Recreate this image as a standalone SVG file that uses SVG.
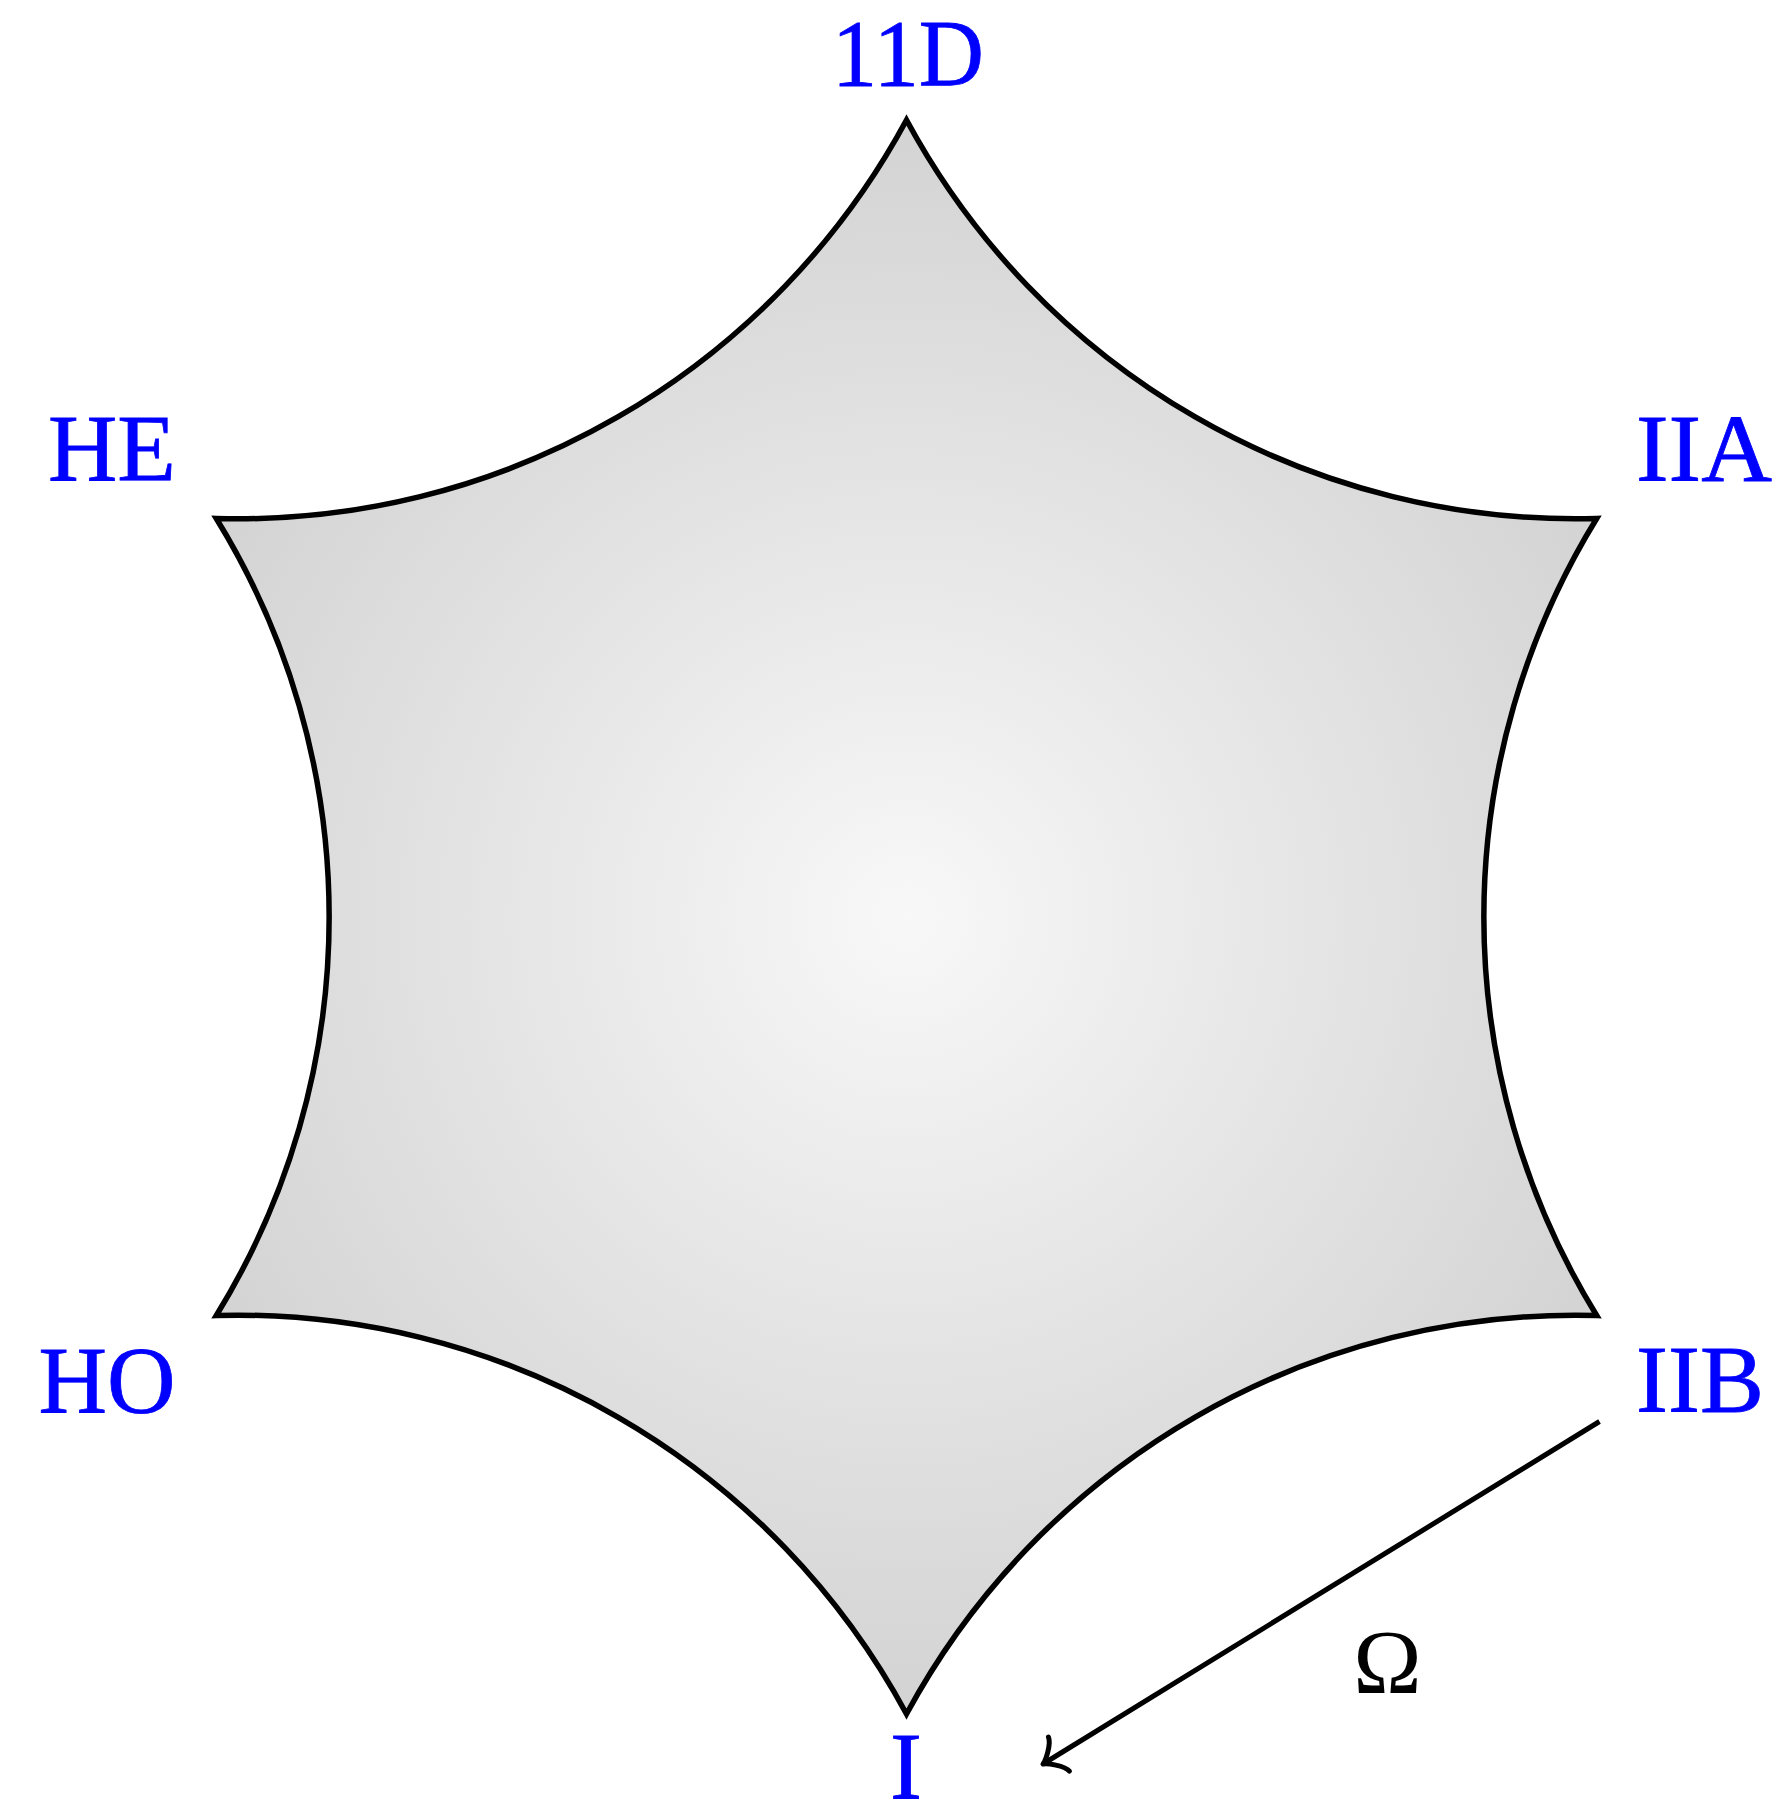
<svg xmlns="http://www.w3.org/2000/svg" width="1784" height="1818" viewBox="0 0 1784 1818">
  <style>
    .lbl { font-family: "Liberation Serif", "DejaVu Serif", serif; font-size: 96px; fill: #0000ff; stroke: #0000ff; stroke-width: 0.8; text-anchor: middle; }
    .sym { font-family: "Liberation Serif", "DejaVu Serif", serif; font-size: 92px; fill: #000000; text-anchor: middle; }
    .edge { fill: none; stroke: #000000; stroke-width: 5; }
  </style>
  <defs>
    <radialGradient id="shade" gradientUnits="userSpaceOnUse" cx="906.5" cy="917" r="800">
      <stop offset="0" stop-color="#f8f8f8"/>
      <stop offset="1" stop-color="#d3d3d3"/>
    </radialGradient>
    <marker id="toArrow" markerUnits="userSpaceOnUse" orient="auto" refX="0" refY="0" markerWidth="60" markerHeight="60" overflow="visible">
      <path d="M -18.75,20 C -17.5,12.5 -3.75,1.25 0,0 C -3.75,-1.25 -17.5,-12.5 -18.75,-20" fill="none" stroke="#000000" stroke-width="5" stroke-linecap="round" stroke-linejoin="round"/>
    </marker>
  </defs>
  <rect width="1784" height="1818" fill="#ffffff"/>

  <g id="star">
    <path d="M 906.5,120 A 760 760 0 0 1 216.3,518.5 A 760 760 0 0 1 216.3,1315.5 A 760 760 0 0 1 906.5,1714 A 760 760 0 0 1 1596.7,1315.5 A 760 760 0 0 1 1596.7,518.5 A 760 760 0 0 1 906.5,120 Z" fill="url(#shade)" stroke="#000000" stroke-width="5.5" stroke-linejoin="miter" stroke-miterlimit="20"/>
  </g>

  <g id="node-11D"><text class="lbl" x="908" y="86" font-size="86" textLength="152" lengthAdjust="spacingAndGlyphs">11D</text></g>
  <g id="node-HE"><text class="lbl" x="112" y="481" textLength="128" lengthAdjust="spacingAndGlyphs">HE</text></g>
  <g id="node-IIA"><text class="lbl" x="1704" y="481" textLength="136" lengthAdjust="spacingAndGlyphs">IIA</text></g>
  <g id="node-HO"><text class="lbl" x="107" y="1413" textLength="137" lengthAdjust="spacingAndGlyphs">HO</text></g>
  <g id="node-IIB"><text class="lbl" x="1700" y="1412" textLength="128" lengthAdjust="spacingAndGlyphs">IIB</text></g>
  <g id="node-I"><text class="lbl" x="906" y="1799" font-size="86">I</text></g>

  <g id="connectors">
    <path class="edge" d="M 1599.5,1421.5 L 1043,1764" marker-end="url(#toArrow)"/>
    <text class="sym" x="1387.5" y="1693">Ω</text>
  </g>
</svg>
